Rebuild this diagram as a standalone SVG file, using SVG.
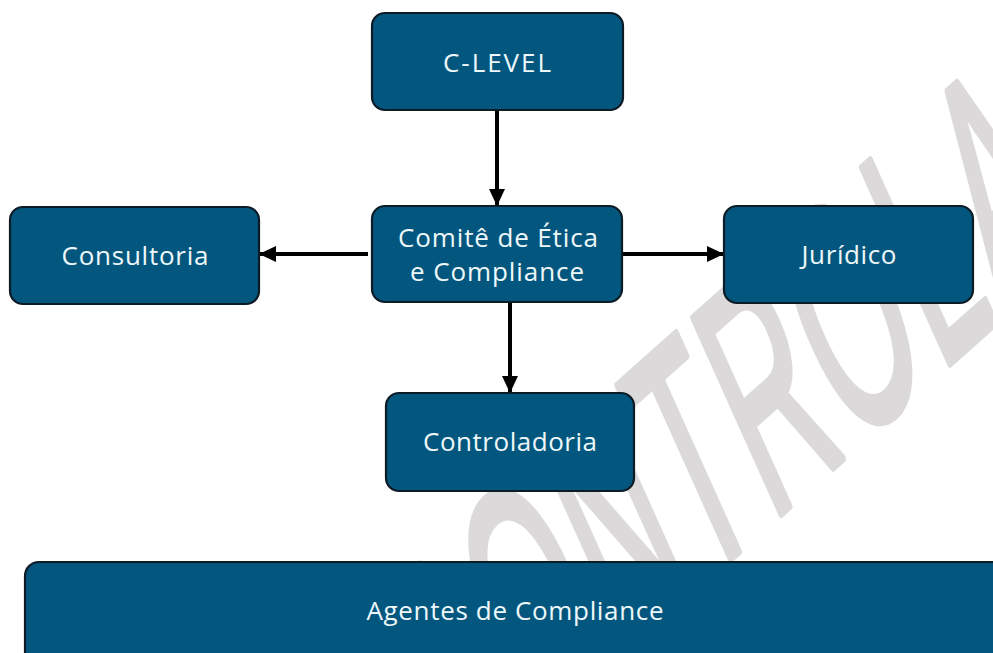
<svg xmlns="http://www.w3.org/2000/svg" width="993" height="653" viewBox="0 0 993 653">
<style>
.box{fill:#03577e;stroke:#0c1b26;stroke-width:2.2}
.lbl{font-family:"Open Sans","Noto Sans","Liberation Sans",sans-serif;font-size:26px;fill:#eef7fa;text-anchor:middle}
.wm{font-family:"Liberation Sans",Arial,sans-serif;font-size:100px;fill:#dcd9db;stroke:#dcd9db;stroke-width:7;stroke-linejoin:round;stroke-linecap:round}
.edge{stroke:#000;stroke-width:4;fill:none}
</style>
<defs>
<marker id="ah" markerUnits="userSpaceOnUse" markerWidth="18" markerHeight="18" viewBox="0 0 18 18" refX="16" refY="9" orient="auto">
<path d="M0,1 L17,9 L0,17 Z" fill="#000"/>
</marker>
</defs>
<rect width="993" height="653" fill="#fff"/>
<g id="watermark">
<text class="wm" vector-effect="non-scaling-stroke" transform="matrix(1.068 -0.951 1.271 2.827 452 806)" x="0 76 158 234 299 375 457 517 588 664 746 822 854" y="0">CONTROLADORIA</text>
</g>
<g id="connectors">
<line class="edge" x1="497" y1="110" x2="497" y2="205" marker-end="url(#ah)"/>
<line class="edge" x1="368" y1="254" x2="260" y2="254" marker-end="url(#ah)"/>
<line class="edge" x1="622" y1="254" x2="723" y2="254" marker-end="url(#ah)"/>
<line class="edge" x1="510" y1="302" x2="510" y2="392" marker-end="url(#ah)"/>
</g>
<g id="c-level">
<rect class="box" x="372" y="13" width="251" height="97" rx="13"/>
<text class="lbl" x="497" y="72" textLength="108">C-LEVEL</text>
</g>
<g id="comite">
<rect class="box" x="372" y="206" width="250" height="96" rx="13"/>
<text class="lbl" x="498" y="247" textLength="200">Comitê de Ética</text>
<text class="lbl" x="497" y="281" textLength="174">e Compliance</text>
</g>
<g id="consultoria">
<rect class="box" x="10" y="207" width="249" height="97" rx="13"/>
<text class="lbl" x="135" y="265" textLength="147">Consultoria</text>
</g>
<g id="juridico">
<rect class="box" x="724" y="206" width="249" height="97" rx="13"/>
<text class="lbl" x="849" y="264" textLength="95">Jurídico</text>
</g>
<g id="controladoria">
<rect class="box" x="386" y="393" width="248" height="98" rx="13"/>
<text class="lbl" x="510" y="451" textLength="174">Controladoria</text>
</g>
<g id="agentes">
<rect class="box" x="25" y="562" width="990" height="110" rx="14"/>
<text class="lbl" x="515" y="620" textLength="297">Agentes de Compliance</text>
</g>
</svg>
